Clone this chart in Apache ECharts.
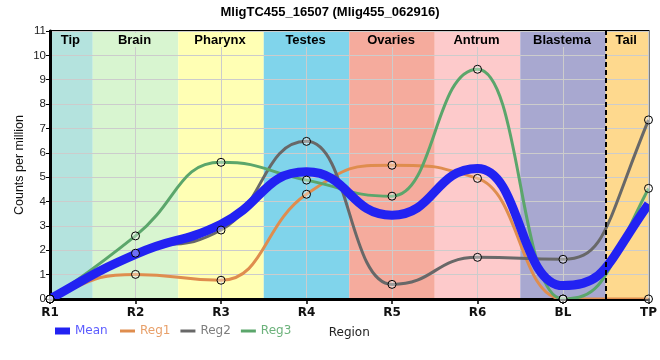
<!DOCTYPE html>
<html><head><meta charset="utf-8">
<script src="https://cdn.jsdelivr.net/npm/echarts/dist/echarts.min.js"></script>
<style>html,body{margin:0;padding:0;background:#fff}#c{width:660px;height:360px}</style>
</head><body><div id="c"></div>
<script>
// ---- data ----
const categories = ['R1','R2','R3','R4','R5','R6','BL','TP'];
const meanVals = [0, 1.83, 3.07, 5.22, 3.44, 5.36, 0.55, 3.9];
const reg1Vals = [0, 1.01, 0.77, 4.30, 5.49, 4.95, 0, 0];
const reg2Vals = [0, 1.88, 2.83, 6.47, 0.60, 1.71, 1.63, 7.35];
const reg3Vals = [0, 2.59, 5.61, 4.88, 4.22, 9.43, 0, 4.54];
const regionNames = ['Tip','Brain','Pharynx','Testes','Ovaries','Antrum','Blastema','Tail'];
const regionStart = [0, 0.5, 1.5, 2.5, 3.5, 4.5, 5.5, 6.5];
const regionEnd   = [0.5, 1.5, 2.5, 3.5, 4.5, 5.5, 6.5, 7];
const yMin = 0, yMax = 11, yStep = 1;
const blastemaTailBoundary = 6.5;

// ---- styles ----
const regionColors = ['#b4e3de','#d8f5d0','#ffffb4','#80d4eb','#f5ab9d','#fdcacb','#a8a8d0','#fed98e'];
const colMean = '#2222f2', colReg1 = '#df8d4e', colReg2 = '#686868', colReg3 = '#5ba66b';

function monoPath(pts, k) {
  const n = pts.length, s = [], m = new Array(n).fill(0);
  for (let i = 0; i < n - 1; i++) {
    const h = pts[i+1][0] - pts[i][0];
    s.push(h ? (pts[i+1][1] - pts[i][1]) / h : 0);
  }
  for (let i = 1; i < n - 1; i++) {
    const s0 = s[i-1], s1 = s[i];
    if (s0 * s1 <= 0) { m[i] = 0; continue; }
    const h0 = pts[i][0] - pts[i-1][0], h1 = pts[i+1][0] - pts[i][0];
    const p = (s0 * h1 + s1 * h0) / (h0 + h1);
    m[i] = (Math.sign(s0) + Math.sign(s1)) * Math.min(Math.abs(s0), Math.abs(s1), 0.5 * Math.abs(p));
  }
  m[0] = (3 * s[0] - m[1]) / 2;
  m[n-1] = (3 * s[n-2] - m[n-2]) / 2;
  let d = 'M' + pts[0][0] + ' ' + pts[0][1];
  for (let i = 0; i < n - 1; i++) {
    const h = pts[i+1][0] - pts[i][0];
    d += ' C' + (pts[i][0] + h * k) + ' ' + (pts[i][1] + m[i] * h * k) + ' ' +
         (pts[i+1][0] - h * k) + ' ' + (pts[i+1][1] - m[i+1] * h * k) + ' ' +
         pts[i+1][0] + ' ' + pts[i+1][1];
  }
  return d;
}

function curveSeries(name, vals, color, width, z) {
  return {
    type: 'custom', name: name, z: z, clip: true,
    coordinateSystem: 'cartesian2d',
    itemStyle: { color: color },
    data: vals.map((v, i) => [i, v]),
    encode: { x: 0, y: 1 },
    renderItem: function (params, api) {
      if (params.dataIndex !== 0) return null;
      const pts = vals.map((v, i) => api.coord([i, v]));
      return {
        type: 'path',
        shape: { pathData: monoPath(pts, 0.5) },
        style: { stroke: color, lineWidth: width, fill: 'none', lineJoin: 'round', lineCap: 'butt' }
      };
    }
  };
}

const chart = echarts.init(document.getElementById('c'), null, { renderer: 'canvas' });
const lbl = 'DejaVu Sans';
const option = {
  animation: false,
  backgroundColor: '#fff',
  title: {
    text: 'MligTC455_16507 (Mlig455_062916)', left: 'center', top: 1,
    textStyle: { fontFamily: 'Liberation Sans', fontSize: 13, fontWeight: 'bold', color: '#000' }
  },
  grid: { left: 50, right: 10, top: 31, bottom: 61, show: true, borderColor: '#000', borderWidth: 2, backgroundColor: 'transparent' },
  legend: [
    {
      data: [{ name: 'Mean', icon: 'rect', textStyle: { color: '#5b5bff' } }],
      left: 55, top: 325, padding: 0, itemWidth: 15, itemHeight: 7, itemGap: 10,
      textStyle: { fontFamily: lbl, fontSize: 12 }
    },
    {
      data: [
        { name: 'Reg1', icon: 'rect', textStyle: { color: '#e8a06a' } },
        { name: 'Reg2', icon: 'rect', textStyle: { color: '#7e7e7e' } },
        { name: 'Reg3', icon: 'rect', textStyle: { color: '#6cb27b' } }
      ],
      left: 120, top: 325, padding: 0, itemWidth: 15, itemHeight: 3, itemGap: 10,
      textStyle: { fontFamily: lbl, fontSize: 12 }
    }
  ],
  xAxis: {
    type: 'value', min: 0, max: categories.length - 1, interval: 1, z: 1,
    name: 'Region', nameLocation: 'middle', nameGap: 28, nameMoveOverlap: false,
    nameTextStyle: { fontFamily: lbl, fontSize: 12, color: '#222' },
    axisLine: { show: true, onZero: false, lineStyle: { color: '#000', width: 3 } },
    axisTick: { show: true, length: 5, lineStyle: { color: '#000', width: 1.5 } },
    axisLabel: { formatter: v => categories[v] || '', fontFamily: lbl, fontSize: 12, fontWeight: 'bold', color: '#111', margin: 8 },
    splitLine: { show: true, lineStyle: { color: '#cccccc', width: 1 } }
  },
  yAxis: {
    type: 'value', min: yMin, max: yMax, interval: yStep, z: 1,
    name: 'Counts per million', nameLocation: 'middle', nameGap: 24, nameMoveOverlap: false,
    nameTextStyle: { fontFamily: 'Liberation Sans', fontSize: 12.5, color: '#111' },
    axisLine: { show: true, lineStyle: { color: '#000', width: 3 } },
    axisTick: { show: true, length: 4, lineStyle: { color: '#000', width: 1 } },
    axisLabel: { fontFamily: 'Liberation Sans', fontSize: 11.5, color: '#222', margin: 4 },
    splitLine: { show: true, lineStyle: { color: '#cccccc', width: 1 } }
  },
  series: [
    {
      type: 'custom', name: 'regions', z: 0, silent: true, clip: true,
      coordinateSystem: 'cartesian2d',
      data: regionNames.map((n, i) => [regionStart[i], regionEnd[i], yMax, i]),
      encode: { x: [0, 1], y: 2 },
      renderItem: function (params, api) {
        const i = params.dataIndex;
        const p0 = api.coord([regionStart[i], yMax]);
        const p1 = api.coord([regionEnd[i], yMin]);
        return { type: 'rect', shape: { x: p0[0], y: p0[1], width: p1[0] - p0[0], height: p1[1] - p0[1] },
                 style: { fill: regionColors[i] } };
      }
    },
    {
      type: 'custom', name: 'regionLabels', z: 2, silent: true,
      coordinateSystem: 'cartesian2d',
      data: regionNames.map((n, i) => [regionStart[i], regionEnd[i], yMax, i]),
      encode: { x: [0, 1], y: 2 },
      renderItem: function (params, api) {
        const i = params.dataIndex;
        const p0 = api.coord([regionStart[i], yMax]);
        const p1 = api.coord([regionEnd[i], yMin]);
        return { type: 'group', children: [
          { type: 'rect', shape: { x: (p0[0] + p1[0]) / 2 - 2, y: p0[1] + 2, width: 4, height: 14 },
            style: { fill: regionColors[i] } },
          { type: 'text',
            style: { text: regionNames[i], x: (p0[0] + p1[0]) / 2 - 1, y: p0[1] + 9,
              align: 'center', verticalAlign: 'middle',
              font: 'bold 13px "Liberation Sans"', fill: '#000' } }
        ] };
      },
      markLine: {
        silent: true, symbol: 'none', label: { show: false },
        lineStyle: { color: '#000', type: [5, 3], width: 2 },
        data: [{ xAxis: blastemaTailBoundary }]
      }
    },
    curveSeries('Reg1', reg1Vals, colReg1, 3, 3),
    curveSeries('Reg2', reg2Vals, colReg2, 3, 3),
    curveSeries('Reg3', reg3Vals, colReg3, 3, 3),
    curveSeries('Mean', meanVals, colMean, 9, 4),
    {
      type: 'scatter', name: 'points', z: 6, symbol: 'circle', symbolSize: 8,
      itemStyle: { color: 'rgba(255,255,255,0.35)', borderColor: '#000', borderWidth: 1, opacity: 1 },
      data: [].concat(
        reg1Vals.map((v, i) => [i, v]),
        reg2Vals.map((v, i) => [i, v]),
        reg3Vals.map((v, i) => [i, v])
      )
    }
  ]
};
chart.setOption(option);
</script>
</body></html>
